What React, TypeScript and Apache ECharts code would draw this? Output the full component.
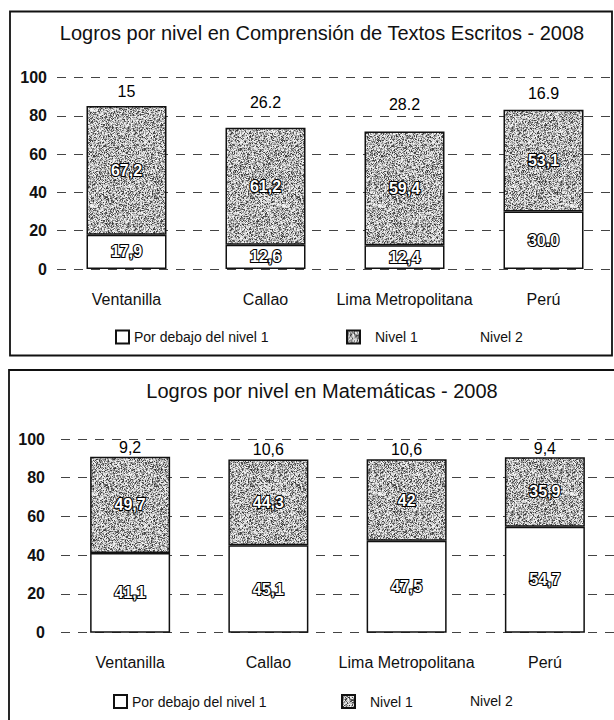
import React, { useEffect, useRef } from 'react';
import * as echarts from 'echarts';

const categories = ['Ventanilla', 'Callao', 'Lima Metropolitana', 'Perú'];
const seriesNames = ['Por debajo del nivel 1', 'Nivel 1', 'Nivel 2'];
const titles = ['Logros por nivel en Comprensión de Textos Escritos - 2008', 'Logros por nivel en Matemáticas - 2008'];

const lectBelow = [17.9, 12.6, 12.4, 30.0];
const lectNivel1 = [67.2, 61.2, 59.4, 53.1];
const lectNivel2 = [15, 26.2, 28.2, 16.9];
const lectBelowLabels = ['17,9', '12,6', '12,4', '30.0'];
const lectNivel1Labels = ['67,2', '61,2', '59,4', '53,1'];
const lectNivel2Labels = ['15', '26.2', '28.2', '16.9'];

const mathBelow = [41.1, 45.1, 47.5, 54.7];
const mathNivel1 = [49.7, 44.3, 42, 35.9];
const mathNivel2 = [9.2, 10.6, 10.6, 9.4];
const mathBelowLabels = ['41,1', '45,1', '47,5', '54,7'];
const mathNivel1Labels = ['49,7', '44,3', '42', '35,9'];
const mathNivel2Labels = ['9,2', '10,6', '10,6', '9,4'];

const FONT = 'Liberation Sans, Arial, sans-serif';

function makeTexture(): any {
  const size = 96;
  const c = document.createElement('canvas');
  c.width = size;
  c.height = size;
  const ctx = c.getContext('2d');
  if (!ctx) return '#9a9a9a';
  const img = ctx.createImageData(size, size);
  let s = 987654321;
  for (let i = 0; i < size * size; i++) {
    s = (s * 1103515245 + 12345) & 0x7fffffff;
    const r = s / 0x7fffffff;
    s = (s * 1103515245 + 12345) & 0x7fffffff;
    const r2 = s / 0x7fffffff;
    let g: number;
    if (r < 0.2) g = 50 + r2 * 60;
    else if (r < 0.5) g = 125 + r2 * 55;
    else g = 195 + r2 * 55;
    img.data[i * 4] = g;
    img.data[i * 4 + 1] = g;
    img.data[i * 4 + 2] = g;
    img.data[i * 4 + 3] = 255;
  }
  ctx.putImageData(img, 0, 0);
  return { image: c.toDataURL(), repeat: 'repeat', imageWidth: size, imageHeight: size };
}

const outlined = {
  show: true,
  position: 'inside',
  color: '#fff',
  fontSize: 16,
  fontWeight: 'bold',
  fontFamily: FONT,
  textBorderColor: '#000',
  textBorderWidth: 2.2,
};

function makeSeries(idx: number, below: number[], n1: number[], n2: number[], bl: string[], n1l: string[], n2l: string[], pattern: any) {
  const common = { type: 'bar', stack: 'st' + idx, xAxisIndex: idx, yAxisIndex: idx, barWidth: 80 };
  return [
    {
      ...common,
      name: seriesNames[0],
      data: below,
      itemStyle: { color: '#fff', borderColor: '#111', borderWidth: 1.5 },
      label: { ...outlined, formatter: (p: any) => bl[p.dataIndex] },
    },
    {
      ...common,
      name: seriesNames[1],
      data: n1,
      itemStyle: { color: pattern, borderColor: '#111', borderWidth: 1.5 },
      label: { ...outlined, formatter: (p: any) => n1l[p.dataIndex] },
    },
    {
      ...common,
      name: seriesNames[2],
      data: n2,
      itemStyle: { color: 'rgba(255,255,255,0)', borderWidth: 0 },
      label: {
        show: true,
        position: 'inside',
        color: '#000',
        fontSize: 16,
        fontFamily: FONT,
        formatter: (p: any) => n2l[p.dataIndex],
      },
    },
  ];
}

function legendSet(top: number, lefts: number[]) {
  const base = {
    top,
    padding: 0,
    icon: 'rect',
    itemWidth: 13,
    itemHeight: 13,
    selectedMode: false,
    textStyle: { fontSize: 14, color: '#111', fontFamily: FONT },
  };
  return [
    { ...base, left: lefts[0], data: [seriesNames[0]] },
    { ...base, left: lefts[1], data: [seriesNames[1]], textStyle: { ...base.textStyle, padding: [0, 0, 0, 10] } },
    { ...base, left: lefts[2], data: [seriesNames[2]] },
  ];
}

export default function App() {
  const ref = useRef<HTMLDivElement>(null);
  useEffect(() => {
    if (!ref.current) return;
    const chart = echarts.init(ref.current, null, { renderer: 'svg' });
    const pattern = makeTexture();
    const gridLine = { show: true, lineStyle: { color: '#444', width: 1, type: [9, 8] } };
    const yAxisBase = {
      type: 'value',
      min: 0,
      max: 100,
      interval: 20,
      axisLine: { show: false },
      axisTick: { show: false },
      splitLine: gridLine,
    };
    const xAxisBase = {
      type: 'category',
      data: categories,
      axisLine: { show: false },
      axisTick: { show: false },
      axisLabel: { interval: 0, margin: 22, fontSize: 16, color: '#111', fontFamily: FONT },
    };
    const yLabel = { fontSize: 16, fontWeight: 'bold', color: '#111', fontFamily: FONT };
    chart.setOption({
      animation: false,
      backgroundColor: '#fff',
      graphic: [
        { type: 'rect', shape: { x: 10, y: 11.5, width: 602, height: 344 }, style: { fill: 'none', stroke: '#111', lineWidth: 1.8 }, z: -1 },
        { type: 'rect', shape: { x: 9, y: 370, width: 612, height: 370 }, style: { fill: 'none', stroke: '#111', lineWidth: 1.8 }, z: -1 },
        { type: 'text', x: 322, y: 33, style: { text: titles[0], fontSize: 20, fontFamily: FONT, fill: '#111', textAlign: 'center', textVerticalAlign: 'middle' } },
        { type: 'text', x: 322, y: 391, style: { text: titles[1], fontSize: 20, fontFamily: FONT, fill: '#111', textAlign: 'center', textVerticalAlign: 'middle' } },
      ],
      legend: [...legendSet(329.5, [115, 346, 462]), ...legendSet(694, [113, 341, 452])],
      grid: [
        { left: 57, top: 77.5, width: 556, height: 191.5 },
        { left: 61, top: 439, width: 558, height: 193.7 },
      ],
      xAxis: [
        { ...xAxisBase, gridIndex: 0 },
        { ...xAxisBase, gridIndex: 1 },
      ],
      yAxis: [
        { ...yAxisBase, gridIndex: 0, axisLabel: { ...yLabel, margin: 10 } },
        { ...yAxisBase, gridIndex: 1, axisLabel: { ...yLabel, margin: 16 } },
      ],
      series: [
        ...makeSeries(0, lectBelow, lectNivel1, lectNivel2, lectBelowLabels, lectNivel1Labels, lectNivel2Labels, pattern),
        ...makeSeries(1, mathBelow, mathNivel1, mathNivel2, mathBelowLabels, mathNivel1Labels, mathNivel2Labels, pattern),
      ],
    });
    return () => chart.dispose();
  }, []);
  return <div ref={ref} style={{ position: 'absolute', left: 0, top: 0, width: 614, height: 720 }} />;
}
